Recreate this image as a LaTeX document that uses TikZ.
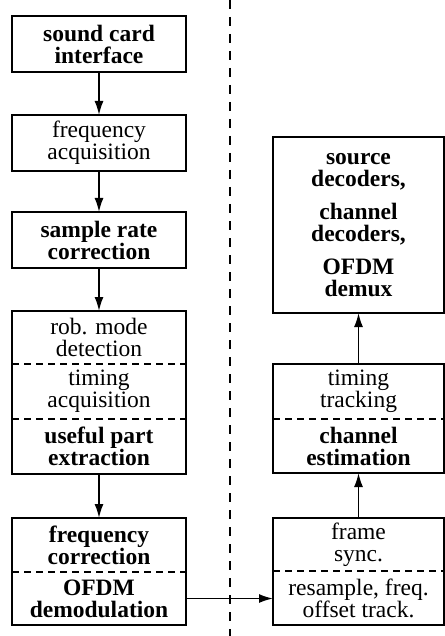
\documentclass[tikz,border=0pt]{standalone}
\usepackage{fontspec}
\setmainfont{Liberation Serif}
\usetikzlibrary{calc,arrows.meta}

\begin{document}
\begin{tikzpicture}[x=1pt,y=-1pt,line width=1.6pt,
	every node/.style={inner sep=0pt,outer sep=0pt,align=center,font=\fontsize{23.5}{22}\selectfont},
	lpart/.style={minimum width=174pt},
	rpart/.style={minimum width=171pt},
	flow/.style={-{Latex[length=14pt,width=9pt]}},
	sep/.style={dash pattern=on 7pt off 5pt,line width=1.1pt}]
\useasboundingbox (0,0) rectangle (444,636);

% left column
\node[lpart,draw,minimum height=56pt] (sci) at (99,44) {\textbf{sound card}\\\textbf{interface}};
\node[lpart,draw,minimum height=56pt] (facq) at (99,143) {frequency\\acquisition};
\node[lpart,draw,minimum height=56pt] (src) at (99,240) {\textbf{sample rate}\\\textbf{correction}};

\node[lpart,minimum height=53pt] (rob) at (99,337.5) {rob. mode\\detection};
\node[lpart,minimum height=55pt] (tacq) at (99,391.5) {timing\\acquisition};
\node[lpart,minimum height=55pt] (upe) at (99,446.5) {\textbf{useful part}\\\textbf{extraction}};
\draw (rob.north west) rectangle (upe.south east);
\draw[sep] (rob.south west) -- (rob.south east);
\draw[sep] (tacq.south west) -- (tacq.south east);

\node[lpart,minimum height=54pt] (fcor) at (99,545) {\textbf{frequency}\\\textbf{correction}};
\node[lpart,minimum height=53pt] (odem) at (99,598.5) {\textbf{OFDM}\\\textbf{demodulation}};
\draw (fcor.north west) rectangle (odem.south east);
\draw[sep] (fcor.south west) -- (fcor.south east);

\draw[flow] (sci.south) -- (facq.north);
\draw[flow] (facq.south) -- (src.north);
\draw[flow] (src.south) -- (rob.north);
\draw[flow] (upe.south) -- (fcor.north);

% divider
\coordinate (dtop) at (230,0);
\coordinate (dbot) at (230,636);
\draw[dash pattern=on 9pt off 8pt,line width=1.3pt] (dtop) -- (dbot);

% right column
\node[rpart,draw,minimum height=176pt] (dec) at (358.5,225)
	{\textbf{source}\\\textbf{decoders,}\\[11pt]\textbf{channel}\\\textbf{decoders,}\\[11pt]\textbf{OFDM}\\\textbf{demux}};

\node[rpart,minimum height=55pt] (ttr) at (358.5,391.5) {timing\\tracking};
\node[rpart,minimum height=54pt] (ces) at (358.5,446) {\textbf{channel}\\\textbf{estimation}};
\draw (ttr.north west) rectangle (ces.south east);
\draw[sep] (ttr.south west) -- (ttr.south east);

\node[rpart,minimum height=53pt] (fsy) at (358.5,544.5) {frame\\sync.};
\node[rpart,minimum height=54pt] (rsm) at (358.5,598) {resample, freq.\\offset track.};
\draw (fsy.north west) rectangle (rsm.south east);
\draw[sep] (fsy.south west) -- (fsy.south east);

\draw[flow] (fsy.north) -- (ces.south);
\draw[flow] (ttr.north) -- (dec.south);
\draw[flow] (odem.east) -- (odem.east -| rsm.west);
\end{tikzpicture}
\end{document}
